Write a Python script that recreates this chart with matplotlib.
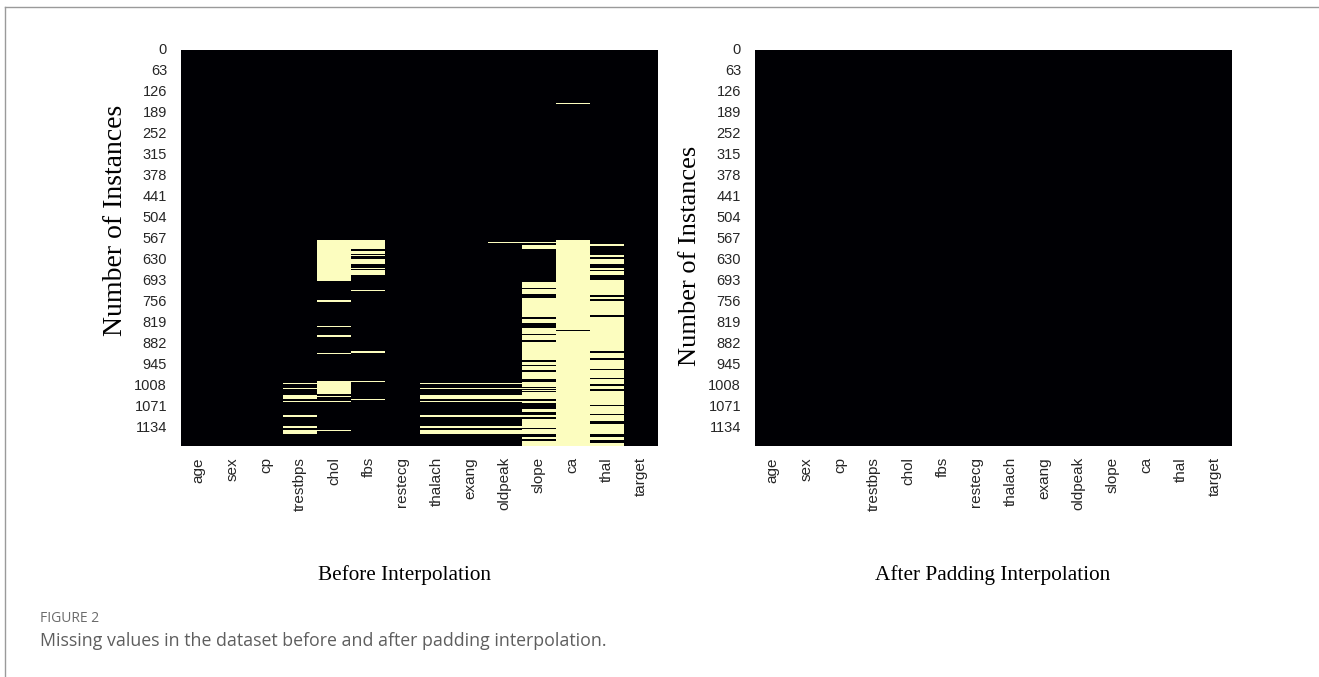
import numpy as np
import pandas as pd
import matplotlib
matplotlib.use("Agg")
import matplotlib.pyplot as plt
from matplotlib import font_manager
from matplotlib.lines import Line2D
import seaborn as sns

W, H = 1319, 677

# ---- data -------------------------------------------------------------
columns = ["age", "sex", "cp", "trestbps", "chol", "fbs", "restecg",
           "thalach", "exang", "oldpeak", "slope", "ca", "thal", "target"]
n_instances = 1190
ytick_step = 63

# missing-value row ranges (start, stop) per feature, before interpolation
age_missing = []
sex_missing = []
cp_missing = []
trestbps_missing = [(1000, 1004), (1015, 1019), (1037, 1048), (1055, 1059),
                    (1098, 1102), (1131, 1135), (1142, 1153)]
chol_missing = [(571, 694), (752, 756), (829, 833), (857, 861), (911, 915),
                (994, 1033), (1039, 1043), (1054, 1058), (1142, 1146)]
fbs_missing = [(571, 599), (603, 612), (616, 620), (627, 642), (654, 658),
               (662, 675), (720, 724), (906, 910), (994, 998), (1049, 1053)]
restecg_missing = []
thalach_missing = [(1000, 1004), (1015, 1019), (1037, 1048), (1055, 1059),
                   (1098, 1102), (1131, 1135), (1142, 1153)]
exang_missing = [(1000, 1004), (1015, 1019), (1037, 1048), (1055, 1059),
                 (1098, 1102), (1131, 1135), (1142, 1153)]
oldpeak_missing = [(577, 581), (1000, 1004), (1015, 1019), (1037, 1048),
                   (1055, 1059), (1098, 1102), (1131, 1135), (1142, 1153)]
slope_missing = [(577, 581), (587, 598), (696, 714), (719, 732), (746, 802),
                 (809, 820), (834, 852), (857, 872), (876, 931), (939, 946),
                 (951, 961), (967, 989), (999, 1012), (1015, 1019),
                 (1021, 1025), (1027, 1048), (1055, 1062), (1080, 1088),
                 (1098, 1104), (1110, 1135), (1138, 1153), (1162, 1168),
                 (1176, 1190)]
ca_missing = [(158, 162), (571, 841), (844, 1190)]
thal_missing = [(584, 588), (616, 622), (627, 643), (656, 662), (665, 676),
                (691, 737), (741, 748), (753, 797), (801, 906), (910, 926),
                (931, 958), (962, 985), (990, 1005), (1010, 1018),
                (1024, 1033), (1034, 1066), (1070, 1093), (1098, 1115),
                (1124, 1153), (1162, 1173), (1180, 1190)]
target_missing = []

missing_ranges = [age_missing, sex_missing, cp_missing, trestbps_missing,
                  chol_missing, fbs_missing, restecg_missing, thalach_missing,
                  exang_missing, oldpeak_missing, slope_missing, ca_missing,
                  thal_missing, target_missing]

# build the boolean "isnull" tables
before = np.zeros((n_instances, len(columns)), dtype=bool)
for j, ranges in enumerate(missing_ranges):
    for a, b in ranges:
        before[a:b, j] = True
before_df = pd.DataFrame(before, columns=columns)
after_df = pd.DataFrame(np.zeros_like(before), columns=columns)

# ---- fonts --------------------------------------------------------------
available = {f.name for f in font_manager.fontManager.ttflist}
tick_font = "Liberation Sans Narrow" if "Liberation Sans Narrow" in available else "Liberation Sans"
serif_font = "Liberation Serif"
caption_font = "Open Sans"

# ---- figure -------------------------------------------------------------
fig = plt.figure(figsize=(W / 100, H / 100), dpi=100)
fig.patch.set_facecolor("white")

ax1 = fig.add_axes([181 / W, 1 - 446 / H, 477 / W, 396 / H])
ax2 = fig.add_axes([755 / W, 1 - 446 / H, 477 / W, 396 / H])

panels = [
    (ax1, 181, before_df, "Before Interpolation", (404, 575), (115, 220), 20),
    (ax2, 755, after_df, "After Padding Interpolation", (993, 575), (690, 256), 19),
]

for ax, x0, df, title, xlab_px, ylab_px, ylab_size in panels:
    sns.heatmap(df, ax=ax, cmap="magma", vmin=0, vmax=1, cbar=False,
                yticklabels=ytick_step, xticklabels=True)
    ax.tick_params(axis="both", length=0, colors="#262626")
    ax.tick_params(axis="y", pad=10)
    ax.tick_params(axis="x", pad=8)
    for lbl in ax.get_yticklabels():
        lbl.set_rotation(0)
        lbl.set_fontsize(10.5)
        lbl.set_fontfamily(tick_font)
    for lbl in ax.get_xticklabels():
        lbl.set_rotation(90)
        lbl.set_fontsize(11)
        lbl.set_fontfamily("Liberation Sans")

    # axis labels placed at fixed pixel positions
    y0 = 446
    ax.set_xlabel(title, fontfamily=serif_font, fontsize=15.3, color="black",
                  va="center")
    ax.xaxis.set_label_coords((xlab_px[0] - x0) / 477, (y0 - xlab_px[1]) / 396)
    ax.set_ylabel("Number of Instances", fontfamily=serif_font,
                  fontsize=ylab_size, color="black", va="center")
    ax.yaxis.set_label_coords((ylab_px[0] - x0) / 477, (y0 - ylab_px[1]) / 396)

# caption
fig.text(40 / W, 1 - 618 / H, "FIGURE 2", fontfamily=caption_font,
         fontsize=10, color="#6b6b6b", va="center", ha="left")
fig.text(40 / W, 1 - 641 / H,
         "Missing values in the dataset before and after padding interpolation.",
         fontfamily=caption_font, fontsize=12.8, color="#5e5e5e",
         va="center", ha="left")

# frame around the figure
fig.add_artist(Line2D([5 / W, 1], [1 - 7 / H, 1 - 7 / H],
                      transform=fig.transFigure, color="#9a9a9a", lw=1))
fig.add_artist(Line2D([5 / W, 5 / W], [0, 1 - 7 / H],
                      transform=fig.transFigure, color="#9a9a9a", lw=1))

fig.savefig("out.png", dpi=100, facecolor="white")
